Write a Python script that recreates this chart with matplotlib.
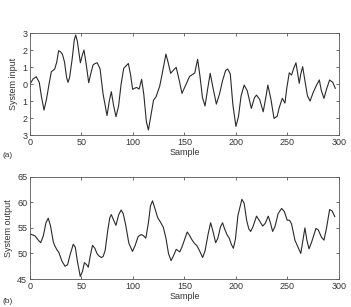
import matplotlib
matplotlib.use('Agg')
import matplotlib.pyplot as plt

plt.rcParams['font.family'] = ['Liberation Sans', 'DejaVu Sans']

# (a) system input
in_x = [0, 3, 6, 9, 11, 13.6, 16, 18.5, 20.7, 24, 26, 27.8, 29.5, 31.4, 33.5, 35.5,
        36.9, 38.5, 41, 43, 44.4, 46, 48.9, 50.8, 52.4, 54.5, 57, 59, 61.2, 63, 65.3,
        68, 71, 74.8, 77, 79, 81, 83.5, 86, 88.5, 91, 93, 95.5, 97.5, 99.7, 101.5,
        103.6, 106, 108.4, 110.5, 113, 115, 117, 120, 122.4, 126, 129, 132, 134,
        136.6, 139, 142, 145, 147.6, 151.5, 155, 157, 160, 162.8, 165, 167.5, 170,
        172.5, 175, 178, 181, 184, 187, 190, 192, 194.5, 197, 200, 202.5, 205, 208,
        211, 215, 218, 220, 223, 226.5, 229, 231, 234, 237, 240, 242, 245, 247.6,
        249.5, 251.8, 254, 256, 258.3, 260, 261.5, 263, 264.8, 267, 269.5, 272, 275,
        278, 281, 283, 285.5, 288, 291, 294, 296.5]
in_y = [0.0, 0.3, 0.43, 0.1, -0.7, -1.53, -0.9, 0.0, 0.72, 0.88, 1.3, 1.96, 1.9, 1.76,
        1.3, 0.4, 0.1, 0.4, 1.5, 2.6, 2.88, 2.5, 1.25, 1.7, 2.0, 1.2, 0.08, 0.6, 1.12,
        1.2, 1.25, 0.9, -0.6, -1.85, -1.0, -0.45, -1.2, -1.92, -1.3, 0.0, 0.92, 1.05,
        1.21, 0.6, -0.31, -0.25, -0.2, -0.3, 0.28, -0.6, -2.2, -2.7, -2.0, -0.94,
        -0.75, -0.12, 0.8, 1.76, 1.3, 0.63, 0.8, 0.98, 0.2, -0.55, -0.02, 0.45, 0.53,
        0.65, 1.45, 0.5, -0.8, -1.29, -0.3, 0.63, -0.3, -1.18, -0.6, 0.2, 0.8, 0.88,
        0.6, -1.2, -2.49, -1.9, -0.7, -0.06, -0.4, -1.43, -0.8, -0.65, -0.9, -1.63,
        -0.8, -0.06, -0.9, -2.02, -1.9, -1.4, -0.84, -1.12, -0.2, 0.66, 0.53, 0.9,
        1.25, 0.6, 0.04, 0.6, 1.02, 0.2, -0.7, -1.0, -0.5, -0.1, 0.24, -0.4, -0.84,
        -0.3, 0.24, 0.1, -0.25]

# (b) system output
out_x = [0, 3, 5, 8, 10.4, 13, 15.5, 17.7, 20, 22.6, 24, 26.5, 28, 31, 34, 36.5, 39,
         42, 44, 46, 48.8, 51, 52.8, 55, 56.6, 58.5, 60.7, 63, 65, 67, 69.3, 71, 73,
         75.5, 77.5, 79, 81, 83.5, 86, 88.5, 90.5, 93, 96, 99.5, 102, 105, 108, 110,
         112.5, 115, 117, 119, 121, 124, 126.5, 129.5, 132, 134.5, 137, 139.5, 142,
         145.5, 148, 152.7, 155, 157.5, 160, 161.8, 164, 167.7, 170, 173, 175.4,
         177.5, 180.3, 182.5, 185, 187, 189, 191.5, 193.5, 195.5, 197.5, 199.5, 202,
         205.8, 208, 210.4, 212.5, 214.3, 216.5, 220, 222.5, 226, 228.5, 231.4,
         233.5, 235.6, 238, 241, 244.4, 247, 249.8, 252, 254, 257.3, 259.5, 263, 265,
         267, 269, 271, 273.5, 277.7, 280, 283, 285.5, 288, 291, 293.5, 296]
out_y = [53.8, 53.6, 53.4, 52.6, 52.1, 53.5, 56.0, 56.9, 55.3, 52.3, 51.5, 50.6, 50.2,
         48.5, 47.5, 47.8, 49.8, 51.8, 51.2, 48.5, 45.5, 46.5, 48.2, 47.8, 47.3, 49.5,
         51.6, 51.0, 50.0, 49.5, 49.2, 49.4, 50.6, 54.5, 57.0, 57.6, 56.6, 55.5, 57.5,
         58.5, 57.8, 55.5, 52.0, 50.4, 51.5, 53.3, 53.7, 53.5, 53.0, 56.0, 59.3, 60.3,
         59.0, 57.0, 56.2, 55.1, 53.0, 50.0, 48.6, 49.6, 50.8, 50.3, 51.5, 54.2, 53.5,
         52.6, 51.9, 51.6, 50.8, 49.2, 50.5, 53.8, 56.0, 54.5, 52.1, 53.0, 55.2, 56.0,
         54.8, 53.6, 53.0, 51.8, 51.0, 52.8, 57.5, 60.6, 59.8, 56.5, 54.8, 54.3, 55.2,
         57.3, 56.5, 55.35, 55.9, 57.3, 56.0, 54.3, 55.3, 57.8, 58.8, 58.2, 56.5, 56.5,
         55.8, 52.6, 51.6, 50.0, 52.5, 55.0, 52.5, 50.9, 52.2, 54.9, 54.6, 53.2, 52.6,
         55.0, 58.6, 58.3, 57.2]

x_ticks = [0, 50, 100, 150, 200, 250, 300]
in_ticks = [-3, -2, -1, 0, 1, 2, 3]
in_labels = ['3', '2', '1', '0', '1', '2', '3']
out_ticks = [45, 50, 55, 60, 65]

fig = plt.figure(figsize=(3.51, 3.07), dpi=100)
ax1 = fig.add_axes([0.0855, 0.560, 0.880, 0.3325])
ax2 = fig.add_axes([0.0855, 0.0912, 0.880, 0.333])

def style(ax):
    ax.tick_params(direction='in', length=2.5, width=0.5, labelsize=6.5,
                   top=True, right=True, colors='#333333', pad=2)
    for s in ax.spines.values():
        s.set_linewidth(0.6)
        s.set_color('#555555')
    ax.set_xlim(0, 300)
    ax.set_xticks(x_ticks)
    ax.set_xlabel('Sample', fontsize=6.5, labelpad=1, color='#333333')

ax1.plot(in_x, in_y, color='#2a2a2a', lw=0.8, solid_joinstyle='round')
ax1.set_ylim(-3, 3)
ax1.set_yticks(in_ticks)
ax1.set_yticklabels(in_labels)
ax1.set_ylabel('System input', fontsize=6.5, labelpad=3, color='#333333')
style(ax1)

ax2.plot(out_x, out_y, color='#2a2a2a', lw=0.8, solid_joinstyle='round')
ax2.set_ylim(45, 65)
ax2.set_yticks(out_ticks)
ax2.set_ylabel('System output', fontsize=6.5, labelpad=3, color='#333333')
style(ax2)

fig.text(0.006, 0.49, '(a)', fontsize=6, color='#333333')
fig.text(0.006, 0.013, '(b)', fontsize=6, color='#333333')

fig.savefig('out.png', dpi=100)
